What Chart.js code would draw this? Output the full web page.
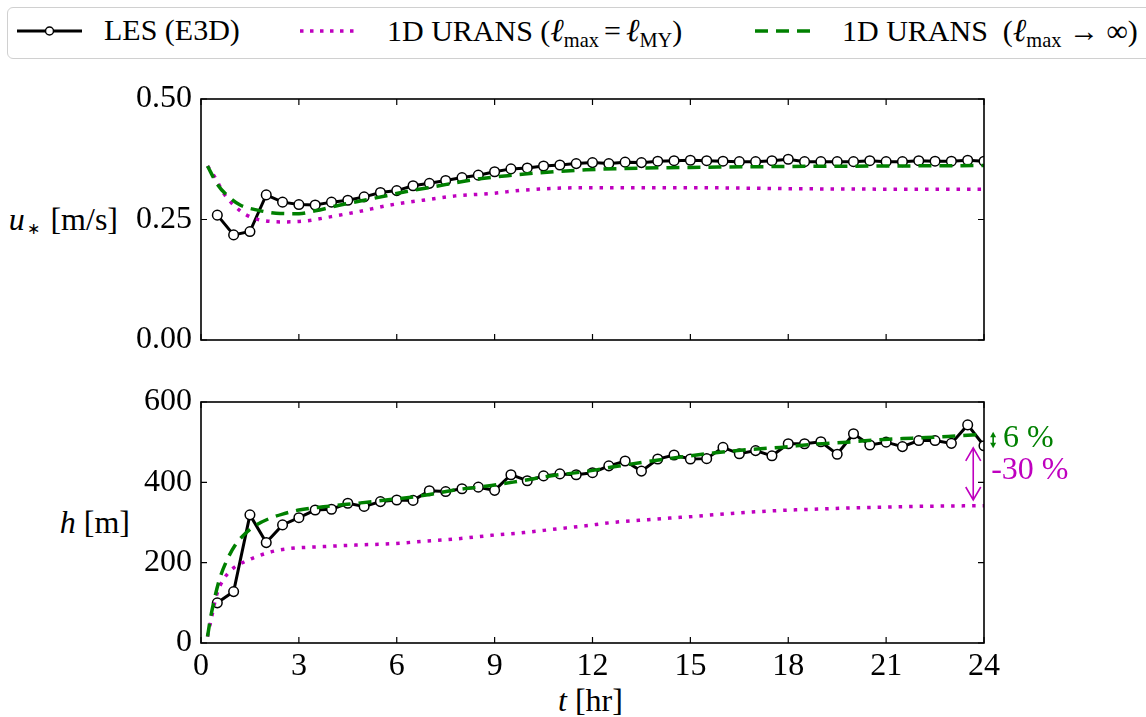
<!DOCTYPE html>
<html>
<head>
<meta charset="utf-8">
<script src="https://cdn.jsdelivr.net/npm/chart.js@4.4.1/dist/chart.umd.min.js"></script>
<style>
  html,body{margin:0;padding:0;background:#fff;}
  body{width:1146px;height:717px;overflow:hidden;position:relative;font-family:"Liberation Serif","Times New Roman",serif;color:#000;}
  .abs{position:absolute;white-space:nowrap;}
  #legendBox{position:absolute;left:7px;top:7px;width:1160px;height:52px;border:1.5px solid #d0d0d0;border-radius:6px;box-sizing:border-box;}
  .lt{font-size:30px;line-height:30px;}
  .lt sub{font-size:0.68em;vertical-align:-0.3em;line-height:0;}
  .ell{font-style:italic;font-size:1.08em;}
  .yt{font-size:32px;line-height:32px;}
  .yt i{font-style:italic;}
</style>
</head>
<body>
<div id="legendBox"></div>
<svg class="abs" style="left:0;top:0" width="1146" height="62">
  <line x1="17" y1="31" x2="82" y2="31" stroke="#000" stroke-width="3"/>
  <circle cx="49.5" cy="31" r="4" fill="#fff" stroke="#000" stroke-width="1.5"/>
  <line x1="300" y1="31" x2="360" y2="31" stroke="#bf00bf" stroke-width="3.5" stroke-dasharray="3.5 6.5"/>
  <line x1="755" y1="31" x2="813" y2="31" stroke="#008000" stroke-width="3.5" stroke-dasharray="13 8"/>
</svg>
<div class="abs lt" style="left:104px;top:15px">LES (E3D)</div>
<div class="abs lt" style="left:387px;top:15px">1D URANS (<span class="ell">ℓ</span><sub>max</sub>&#8198;=&#8198;<span class="ell">ℓ</span><sub>MY</sub>)</div>
<div class="abs lt" style="left:842px;top:15px">1D URANS&nbsp; (<span class="ell">ℓ</span><sub>max</sub>&#8197;→&#8197;∞)</div>

<div class="abs yt" style="right:1028px;top:203px;text-align:right"><i>u</i><span style="font-size:0.5em;position:relative;top:0.25em;padding:0 0.15em">∗</span> [m/s]</div>
<div class="abs yt" style="right:1016px;top:506px;text-align:right"><i>h</i> [m]</div>
<div class="abs yt" style="left:558px;top:684px"><i>t</i> [hr]</div>

<div style="position:absolute;left:0;top:70px;width:1146px;height:300px"><canvas id="c1"></canvas></div>
<div style="position:absolute;left:0;top:370px;width:1146px;height:347px"><canvas id="c2"></canvas></div>

<script>
// ---------------- data ----------------
const tLES = [0.5,1,1.5,2,2.5,3,3.5,4,4.5,5,5.5,6,6.5,7,7.5,8,8.5,9,9.5,10,10.5,11,11.5,12,
              12.5,13,13.5,14,14.5,15,15.5,16,16.5,17,17.5,18,18.5,19,19.5,20,20.5,21,21.5,22,22.5,23,23.5,24];
const uLES = [0.259,0.218,0.225,0.301,0.286,0.281,0.280,0.286,0.290,0.297,0.306,0.310,0.320,0.325,0.331,0.337,0.342,0.349,0.355,0.357,0.361,0.363,0.366,
              0.368,0.366,0.369,0.368,0.371,0.372,0.373,0.372,0.371,0.370,0.370,0.372,0.375,0.370,0.370,0.370,0.370,0.372,0.370,0.370,0.372,0.371,0.371,0.373,0.371];
const hLES = [100,128,319,250,294,312,331,333,348,340,352,356,355,379,377,384,388,380,419,404,416,421,419,
              424,441,453,428,458,468,458,459,487,471,479,466,496,496,501,470,521,493,500,489,504,504,497,543,491];

// 1D URANS, l_max = l_MY (magenta dotted)
const tMYu = [0.2,0.45,0.7,1.0,1.4,2.0,2.6,3.2,4.0,4.8,5.8,6.8,7.8,8.9,9.9,11.8,13,15,18,21,24];
const uMY  = [0.361,0.335,0.304,0.280,0.259,0.247,0.245,0.247,0.256,0.266,0.280,0.290,0.299,0.304,0.311,0.316,0.316,0.316,0.314,0.313,0.313];
const tMYh = [0.2,0.33,0.48,0.68,1.0,1.35,1.7,2.2,2.7,3.75,4.8,5.8,6.8,7.8,8.9,9.9,10.9,11.8,12.6,13.7,14.7,15.7,16.7,17.75,18.8,19.8,20.8,21.8,22.9,24];
const hMY  = [16,66,120,157,187,203,215,228,235,240,244,247,253,259,268,275,284,292,300,307,313,319,325,330,333,336,338,340,341,342];

// 1D URANS, l_max -> infinity (green dashed)
const tINFu = [0.2,0.5,0.8,1.2,1.7,2.3,3.0,3.5,4.2,5.3,6.3,7.3,8.3,9.4,10.4,11.8,13,15,18,21,24];
const uINF  = [0.361,0.323,0.300,0.280,0.270,0.263,0.262,0.268,0.279,0.294,0.308,0.320,0.332,0.341,0.347,0.353,0.356,0.358,0.360,0.361,0.362];
const tINFh = [0.2,0.3,0.43,0.58,0.8,1.05,1.35,1.7,2.1,2.5,3.0,3.75,4.8,5.8,6.8,7.8,8.9,9.9,10.9,11.8,12.6,13.7,14.7,15.7,16.7,17.75,18.8,19.8,20.8,21.8,22.9,24];
const hINF  = [16,66,116,162,207,244,272,294,310,321,331,339,348,357,367,381,392,405,418,427,438,452,463,473,481,487,495,500,506,510,514,520];

const xTicks = [0,3,6,9,12,15,18,21,24];

// annotations (data coordinates)
const arrowGreen = {t:24.28, from:526, to:485};
const arrowMag   = {t:23.67, from:486, to:356};
const labelGreen = {t:24.58, h:508, text:'6 %'};
const labelMag   = {t:24.22, h:428, text:'-30 %'};

// ---------------- helpers ----------------
const pts = (xs, ys) => xs.map((x,i)=>({x:x, y:ys[i]}));
const MAG = '#bf00bf', GRN = '#008000';
const FONT = '"Liberation Serif","Times New Roman",serif';

function lesDS(data){
  return {data, borderColor:'#000', borderWidth:3, pointRadius:4.8, pointBackgroundColor:'#fff',
          pointBorderColor:'#000', pointBorderWidth:1.5, tension:0, order:3};
}
function magDS(data){
  return {data, borderColor:MAG, borderWidth:3.5, borderDash:[3.5,7], borderCapStyle:'butt', pointRadius:0,
          cubicInterpolationMode:'monotone', order:2};
}
function grnDS(data){
  return {data, borderColor:GRN, borderWidth:3.5, borderDash:[13,8], borderCapStyle:'butt', pointRadius:0,
          cubicInterpolationMode:'monotone', order:1};
}

const framePlugin = {
  id:'frame',
  afterDatasetsDraw(chart){
    const {ctx, chartArea:a, scales:{x,y}} = chart;
    ctx.save();
    ctx.strokeStyle = '#000';
    ctx.lineWidth = 1.2;
    const L = 6;
    ctx.beginPath();
    x.ticks.forEach(t=>{
      const px = x.getPixelForValue(t.value);
      ctx.moveTo(px,a.bottom); ctx.lineTo(px,a.bottom-L);
      ctx.moveTo(px,a.top); ctx.lineTo(px,a.top+L);
    });
    y.ticks.forEach(t=>{
      const py = y.getPixelForValue(t.value);
      ctx.moveTo(a.left,py); ctx.lineTo(a.left+L,py);
      ctx.moveTo(a.right,py); ctx.lineTo(a.right-L,py);
    });
    ctx.stroke();
    ctx.lineWidth = 1.6;
    ctx.strokeRect(a.left,a.top,a.right-a.left,a.bottom-a.top);
    ctx.restore();
  }
};

function baseOptions(yMin,yMax,yStep,yFmt,showX){
  return {
    responsive:true, maintainAspectRatio:false, animation:false,
    layout:{padding:{left:101,right:162,top:showX?32:29,bottom:showX?24:30}},
    plugins:{legend:{display:false}, tooltip:{enabled:false}},
    events:[],
    scales:{
      x:{type:'linear', min:0, max:24,
         afterBuildTicks:(s)=>{s.ticks = xTicks.map(v=>({value:v}));},
         afterFit:(s)=>{s.height = showX?50:0;},
         grid:{display:false, drawTicks:false}, border:{display:false},
         ticks:{display:showX, padding:4, color:'#000', font:{family:FONT,size:32}, maxRotation:0, autoSkip:false}},
      y:{min:yMin, max:yMax,
         afterFit:(s)=>{s.width = 100;},
         grid:{display:false, drawTicks:false}, border:{display:false},
         ticks:{stepSize:yStep, padding:9, color:'#000', font:{family:FONT,size:32}, callback:yFmt}}
    }
  };
}

// ---------------- top chart ----------------
new Chart(document.getElementById('c1'), {
  type:'line',
  data:{datasets:[lesDS(pts(tLES,uLES)), magDS(pts(tMYu,uMY)), grnDS(pts(tINFu,uINF))]},
  options:baseOptions(0,0.5,0.25,(v)=>Number(v).toFixed(2),false),
  plugins:[framePlugin]
});

// ---------------- bottom chart ----------------
const annoPlugin = {
  id:'anno',
  afterDraw(chart){
    const {ctx, scales:{x,y}} = chart;
    ctx.save();
    // green small double arrow with filled heads
    let ax = x.getPixelForValue(arrowGreen.t), y1 = y.getPixelForValue(arrowGreen.from), y2 = y.getPixelForValue(arrowGreen.to);
    ctx.strokeStyle = GRN; ctx.fillStyle = GRN; ctx.lineWidth = 1.6;
    ctx.beginPath(); ctx.moveTo(ax,y1+4); ctx.lineTo(ax,y2-4); ctx.stroke();
    ctx.beginPath(); ctx.moveTo(ax,y1); ctx.lineTo(ax-3,y1+5.5); ctx.lineTo(ax+3,y1+5.5); ctx.closePath(); ctx.fill();
    ctx.beginPath(); ctx.moveTo(ax,y2); ctx.lineTo(ax-3,y2-5.5); ctx.lineTo(ax+3,y2-5.5); ctx.closePath(); ctx.fill();
    // magenta double arrow with open heads
    ax = x.getPixelForValue(arrowMag.t); y1 = y.getPixelForValue(arrowMag.from); y2 = y.getPixelForValue(arrowMag.to);
    ctx.strokeStyle = MAG; ctx.lineWidth = 1.6;
    ctx.beginPath();
    ctx.moveTo(ax,y1); ctx.lineTo(ax,y2);
    ctx.moveTo(ax-7.5,y1+13); ctx.lineTo(ax,y1); ctx.lineTo(ax+7.5,y1+13);
    ctx.moveTo(ax-7.5,y2-13); ctx.lineTo(ax,y2); ctx.lineTo(ax+7.5,y2-13);
    ctx.stroke();
    // labels
    ctx.font = '32px ' + FONT;
    ctx.textAlign = 'left'; ctx.textBaseline = 'middle';
    ctx.fillStyle = GRN;
    ctx.fillText(labelGreen.text, x.getPixelForValue(labelGreen.t), y.getPixelForValue(labelGreen.h));
    ctx.fillStyle = MAG;
    ctx.fillText(labelMag.text, x.getPixelForValue(labelMag.t), y.getPixelForValue(labelMag.h));
    ctx.restore();
  }
};

new Chart(document.getElementById('c2'), {
  type:'line',
  data:{datasets:[lesDS(pts(tLES,hLES)), magDS(pts(tMYh,hMY)), grnDS(pts(tINFh,hINF))]},
  options:baseOptions(0,600,200,(v)=>String(v),true),
  plugins:[framePlugin, annoPlugin]
});
</script>
</body>
</html>
